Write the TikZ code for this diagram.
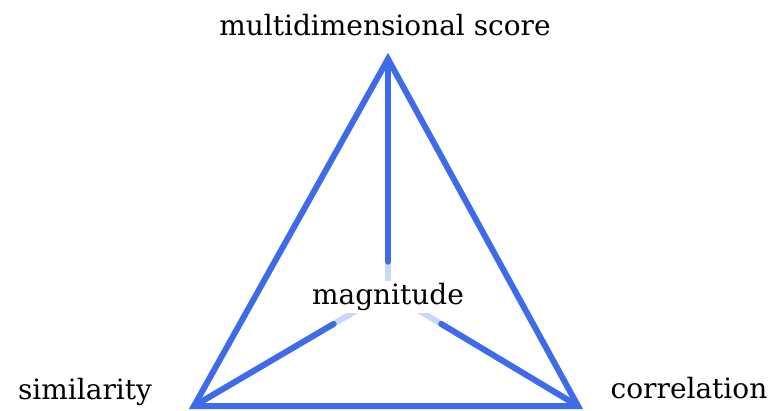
\documentclass[tikz,border=0pt]{standalone}
\usepackage{fontspec}
\setmainfont{DejaVu Serif}
\usepackage{tikz}
\usetikzlibrary{calc}
\definecolor{edgeblue}{RGB}{62,108,232}
\definecolor{paleblue}{RGB}{200,216,250}
\tikzset{
  edge/.style={draw=edgeblue, line width=6pt, line cap=round, line join=miter},
  fadeedge/.style={draw=paleblue, line width=6pt},
  label/.style={font=\fontsize{28}{32}\selectfont, text=black, inner sep=0pt}
}

\begin{document}
\begin{tikzpicture}[x=1pt,y=-1pt]
\useasboundingbox (0,0) rectangle (784,411);
\coordinate (top) at (388,59);
\coordinate (left) at (194,406);
\coordinate (right) at (578,406);
\coordinate (mid) at (388,292);

% faded inner ends
\draw[fadeedge] (top)--(mid);
\draw[fadeedge] (left)--(mid);
\draw[fadeedge] (right)--(mid);

% triangle
\draw[edge] (top)--(left)--(right)--cycle;
\draw[edge] (top)--($(top)!0.87!(mid)$);
\draw[edge] (left)--($(left)!0.72!(mid)$);
\draw[edge] (right)--($(right)!0.72!(mid)$);

\node[label] (score) at (385,25) {multidimensional score};
\node[label, fill=white, inner sep=2pt] (magn) at (388,297) {magnitude};
\node[label] (simil) at (85,392) {similarity};
\node[label] (correl) at (689,388) {correlation};
\end{tikzpicture}
\end{document}
